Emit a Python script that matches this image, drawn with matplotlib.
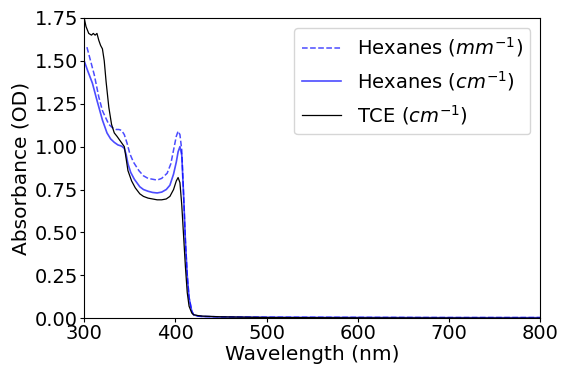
import numpy as np
import matplotlib
matplotlib.use("Agg")
import matplotlib.pyplot as plt

########### data

wl_tce = [300, 302, 305, 308, 310, 312, 314, 316, 318, 320, 322, 324, 327, 330,
          333, 336, 340, 344, 346, 348, 352, 356, 361, 365, 370, 375, 380, 385,
          390, 394, 398, 401, 403, 405, 407, 409, 411, 413, 415, 418, 420, 425, 430,
          450, 500, 600, 700, 800]
abs_tce = [1.75, 1.70, 1.66, 1.65, 1.66, 1.65, 1.66, 1.62, 1.59, 1.57, 1.50, 1.38, 1.23, 1.13,
           1.08, 1.06, 1.03, 1.00, 0.93, 0.86, 0.80, 0.76, 0.725, 0.71, 0.70, 0.695, 0.69, 0.69,
           0.695, 0.71, 0.75, 0.80, 0.82, 0.79, 0.66, 0.48, 0.30, 0.15, 0.07, 0.03, 0.02, 0.015, 0.012,
           0.008, 0.004, 0.002, 0.001, 0.0]

wl_hex_mm = [303, 307, 311, 316, 320, 323, 327, 331, 335, 338, 341, 344, 347, 350,
             354, 360, 365, 370, 375, 380, 385, 391, 395, 398, 401, 403, 405, 407, 409,
             411, 413, 415, 418, 420, 425, 430, 450, 500, 600, 700, 800]
abs_hex_mm = [1.58, 1.50, 1.42, 1.29, 1.21, 1.175, 1.13, 1.11, 1.10, 1.10, 1.095, 1.07, 1.02, 0.96,
              0.91, 0.86, 0.83, 0.815, 0.81, 0.805, 0.815, 0.845, 0.90, 0.98, 1.06, 1.09, 1.07, 0.98, 0.72,
              0.45, 0.25, 0.12, 0.04, 0.02, 0.012, 0.01, 0.008, 0.006, 0.005, 0.004, 0.004]

wl_hex_cm = [300, 304, 309, 314, 320, 325, 329, 333, 337, 341, 344, 346, 348,
             351, 355, 361, 365, 370, 375, 380, 385, 390, 394, 398, 401, 403, 405, 407,
             409, 411, 413, 415, 418, 420, 425, 430, 450, 500, 600, 700, 800]
abs_hex_cm = [1.50, 1.44, 1.37, 1.27, 1.155, 1.08, 1.045, 1.025, 1.01, 1.003, 0.99, 0.955, 0.90,
              0.85, 0.81, 0.766, 0.75, 0.74, 0.733, 0.73, 0.735, 0.75, 0.775, 0.84, 0.91, 0.97, 1.00, 0.95,
              0.72, 0.45, 0.25, 0.12, 0.04, 0.02, 0.012, 0.01, 0.007, 0.005, 0.004, 0.003, 0.003]

########### Plot

fig = plt.figure(figsize=(5.65, 3.67), dpi=100)
ax = fig.add_axes([0.149, 0.133, 0.807, 0.818])

ax.plot(wl_hex_mm, abs_hex_mm, "--", color="b", alpha=0.7, lw=1.1, label=r"Hexanes ($mm^{-1}$)")
ax.plot(wl_hex_cm, abs_hex_cm, "-", color="b", alpha=0.7, lw=1.2, label=r"Hexanes ($cm^{-1}$)")
ax.plot(wl_tce, abs_tce, "-", color="k", lw=0.9, label=r"TCE ($cm^{-1}$)")

ax.set_xlim(300, 800)
ax.set_ylim(0, 1.75)
ax.set_yticks(np.arange(0, 1.76, 0.25))
ax.tick_params(labelsize=14, length=3, pad=1.5)
ax.set_xlabel("Wavelength (nm)", fontsize=14.5, labelpad=1)
ax.set_ylabel("Absorbance (OD)", fontsize=14.5, labelpad=3)
ax.legend(fontsize=14, loc="upper right", handlelength=2.0)

fig.savefig("out.png")
